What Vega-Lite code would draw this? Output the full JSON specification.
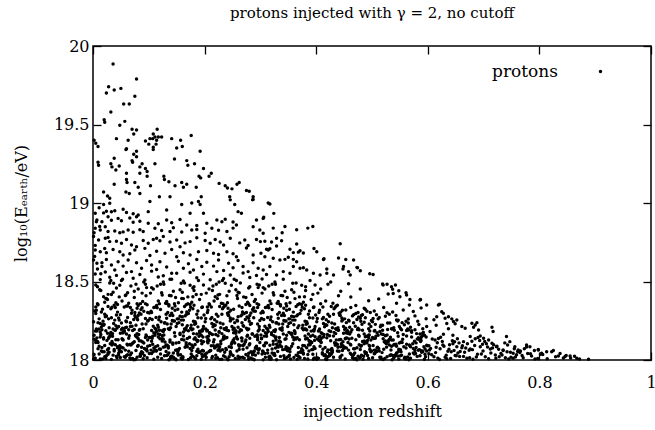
{"$schema":"https://vega.github.io/schema/vega-lite/v6.json",
"width":558,"height":314,"autosize":"none",
"padding":{"left":93,"top":46,"right":4,"bottom":70},
"background":"white",
"config":{"font":"DejaVu Serif","view":{"stroke":"black","strokeWidth":1.5},
"axis":{"labelFont":"DejaVu Serif","titleFont":"DejaVu Serif","labelFontSize":16,"titleFontSize":16,"titleFontWeight":"normal","labelColor":"black","titleColor":"black","tickColor":"black","tickWidth":1.3,"domain":false,"grid":false}},
"title":{"text":"protons injected with γ = 2, no cutoff","font":"DejaVu Serif","fontSize":15,"fontWeight":"normal","color":"black","offset":17,"anchor":"middle"},
"data":{"values":[
{"z":0.036,"E":19.885},{"z":0.078,"E":19.79},{"z":0.028,"E":19.74},{"z":0.038,"E":19.72},{"z":0.050,"E":19.73},{"z":0.024,"E":19.70},{"z":0.075,"E":19.68},{"z":0.055,"E":19.63},{"z":0.065,"E":19.63},{"z":0.032,"E":19.58},{"z":0.020,"E":19.53},{"z":0.021,"E":19.515},{"z":0.057,"E":19.52},
{"z":0.048,"E":19.495},{"z":0.070,"E":19.47},{"z":0.078,"E":19.465},{"z":0.073,"E":19.44},{"z":0.115,"E":19.47},{"z":0.108,"E":19.44},{"z":0.111,"E":19.42},{"z":0.117,"E":19.42},{"z":0.123,"E":19.42},{"z":0.102,"E":19.41},{"z":0.107,"E":19.41},{"z":0.114,"E":19.40},{"z":0.094,"E":19.395},{"z":0.100,"E":19.375},{"z":0.113,"E":19.375},{"z":0.108,"E":19.355},{"z":0.108,"E":19.34},{"z":0.141,"E":19.41},{"z":0.157,"E":19.40},{"z":0.176,"E":19.43},{"z":0.160,"E":19.36},{"z":0.150,"E":19.35},{"z":0.192,"E":19.33},{"z":0.002,"E":19.40},{"z":0.005,"E":19.38},{"z":0.009,"E":19.36},{"z":0.042,"E":19.41},{"z":0.063,"E":19.40},{"z":0.059,"E":19.34},{"z":0.060,"E":19.345},{"z":0.073,"E":19.31},{"z":0.078,"E":19.33},
{"z":0.009,"E":19.26},{"z":0.010,"E":19.24},{"z":0.038,"E":19.285},{"z":0.032,"E":19.25},{"z":0.034,"E":19.23},{"z":0.041,"E":19.21},{"z":0.047,"E":19.235},{"z":0.070,"E":19.27},{"z":0.071,"E":19.26},{"z":0.078,"E":19.295},{"z":0.060,"E":19.19},{"z":0.088,"E":19.25},{"z":0.084,"E":19.23},{"z":0.094,"E":19.22},{"z":0.097,"E":19.20},{"z":0.111,"E":19.25},{"z":0.084,"E":19.19},{"z":0.146,"E":19.28},{"z":0.168,"E":19.27},{"z":0.170,"E":19.24},{"z":0.182,"E":19.25},{"z":0.198,"E":19.22},{"z":0.212,"E":19.19},{"z":0.208,"E":19.17},{"z":0.190,"E":19.17},{"z":0.193,"E":19.16},{"z":0.127,"E":19.17},{"z":0.136,"E":19.135},{"z":0.128,"E":19.15},{"z":0.097,"E":19.17},{"z":0.060,"E":19.15},{"z":0.061,"E":19.13},{"z":0.075,"E":19.13},{"z":0.081,"E":19.10},{"z":0.038,"E":19.12},{"z":0.103,"E":19.11},{"z":0.159,"E":19.13},{"z":0.168,"E":19.12},{"z":0.162,"E":19.10},{"z":0.147,"E":19.11},{"z":0.185,"E":19.10},{"z":0.226,"E":19.125},{"z":0.237,"E":19.11},{"z":0.241,"E":19.095},{"z":0.249,"E":19.09},{"z":0.258,"E":19.12},{"z":0.262,"E":19.13},{"z":0.275,"E":19.08},{"z":0.280,"E":19.075},{"z":0.019,"E":19.07},{"z":0.026,"E":19.045},{"z":0.030,"E":19.03},{"z":0.059,"E":19.07},{"z":0.065,"E":19.06},{"z":0.084,"E":19.06},{"z":0.119,"E":19.04},{"z":0.138,"E":19.04},{"z":0.194,"E":19.04},{"z":0.245,"E":19.04},{"z":0.287,"E":19.04},{"z":0.314,"E":19.0},{"z":0.287,"E":19.023},
{"z":0.102,"E":19.01},{"z":0.159,"E":18.99},{"z":0.177,"E":19.0},{"z":0.189,"E":19.01},{"z":0.192,"E":18.99},{"z":0.246,"E":19.02},{"z":0.286,"E":19.02},{"z":0.317,"E":18.994},{"z":0.254,"E":18.99},{"z":0.260,"E":18.945},{"z":0.266,"E":18.935},{"z":0.174,"E":18.935},{"z":0.030,"E":18.998},
{"z":0.004,"E":18.935},{"z":0.019,"E":18.937},{"z":0.024,"E":18.948},{"z":0.033,"E":18.944},{"z":0.039,"E":18.951},{"z":0.054,"E":18.96},{"z":0.060,"E":18.94},{"z":0.072,"E":18.932},{"z":0.081,"E":18.924},{"z":0.099,"E":18.945},{"z":0.132,"E":18.955},{"z":0.198,"E":18.935},
{"z":0.007,"E":18.892},{"z":0.016,"E":18.881},{"z":0.027,"E":18.913},{"z":0.033,"E":18.89},{"z":0.045,"E":18.902},{"z":0.051,"E":18.887},{"z":0.066,"E":18.905},{"z":0.072,"E":18.878},{"z":0.078,"E":18.913},{"z":0.084,"E":18.884},{"z":0.099,"E":18.871},{"z":0.117,"E":18.868},{"z":0.132,"E":18.892},{"z":0.141,"E":18.874},{"z":0.156,"E":18.895},{"z":0.168,"E":18.86},{"z":0.186,"E":18.857},{"z":0.204,"E":18.871},{"z":0.222,"E":18.892},{"z":0.231,"E":18.881},{"z":0.237,"E":18.896},{"z":0.251,"E":18.879},{"z":0.257,"E":18.86},{"z":0.293,"E":18.892},{"z":0.305,"E":18.902},{"z":0.324,"E":18.934},{"z":0.306,"E":18.909},
{"z":0.004,"E":18.839},{"z":0.013,"E":18.828},{"z":0.022,"E":18.849},{"z":0.027,"E":18.818},{"z":0.039,"E":18.821},{"z":0.048,"E":18.811},{"z":0.054,"E":18.816},{"z":0.063,"E":18.828},{"z":0.072,"E":18.814},{"z":0.084,"E":18.83},{"z":0.090,"E":18.818},{"z":0.111,"E":18.839},{"z":0.123,"E":18.825},{"z":0.138,"E":18.818},{"z":0.144,"E":18.842},{"z":0.159,"E":18.815},{"z":0.177,"E":18.828},{"z":0.186,"E":18.831},{"z":0.201,"E":18.807},{"z":0.213,"E":18.839},{"z":0.225,"E":18.826},{"z":0.240,"E":18.818},{"z":0.251,"E":18.84},{"z":0.287,"E":18.849},{"z":0.299,"E":18.828},{"z":0.305,"E":18.807},
{"z":0.344,"E":18.85},{"z":0.385,"E":18.84},{"z":0.394,"E":18.85},{"z":0.365,"E":18.83},{"z":0.323,"E":18.84},{"z":0.339,"E":18.81},{"z":0.443,"E":18.74},{"z":0.396,"E":18.71},{"z":0.413,"E":18.64},{"z":0.440,"E":18.65},{"z":0.453,"E":18.64},{"z":0.473,"E":18.59},{"z":0.496,"E":18.55},{"z":0.419,"E":18.58},{"z":0.448,"E":18.58},
{"z":0.308,"E":18.756},{"z":0.311,"E":18.705},{"z":0.317,"E":18.708},{"z":0.320,"E":18.752},{"z":0.329,"E":18.775},{"z":0.329,"E":18.726},{"z":0.338,"E":18.76},{"z":0.365,"E":18.739},{"z":0.353,"E":18.705},{"z":0.359,"E":18.684},{"z":0.368,"E":18.687},{"z":0.371,"E":18.696},{"z":0.377,"E":18.681},{"z":0.308,"E":18.658},{"z":0.323,"E":18.648},{"z":0.335,"E":18.637},{"z":0.344,"E":18.641},{"z":0.350,"E":18.654},{"z":0.359,"E":18.641},{"z":0.359,"E":18.595},{"z":0.365,"E":18.626},{"z":0.371,"E":18.584},{"z":0.377,"E":18.587},{"z":0.383,"E":18.573},{"z":0.395,"E":18.552},{"z":0.407,"E":18.542},{"z":0.305,"E":18.573},{"z":0.317,"E":18.595},{"z":0.329,"E":18.542},{"z":0.341,"E":18.563},{"z":0.353,"E":18.552},{"z":0.311,"E":18.545},{"z":0.419,"E":18.552},{"z":0.431,"E":18.542},{"z":0.461,"E":18.542},{"z":0.449,"E":18.595},{"z":0.458,"E":18.563},
{"z":0.414,"E":18.645},{"z":0.401,"E":18.69},{"z":0.467,"E":18.637},{"z":0.474,"E":18.588},{"z":0.479,"E":18.569},{"z":0.502,"E":18.544},{"z":0.519,"E":18.484},{"z":0.527,"E":18.482},{"z":0.542,"E":18.478},{"z":0.537,"E":18.45},{"z":0.561,"E":18.429},{"z":0.568,"E":18.386},{"z":0.587,"E":18.386},
{"z":0.001,"E":18.786},{"z":0.010,"E":18.764},{"z":0.022,"E":18.775},{"z":0.030,"E":18.754},{"z":0.042,"E":18.757},{"z":0.051,"E":18.743},{"z":0.060,"E":18.768},{"z":0.069,"E":18.733},{"z":0.078,"E":18.722},{"z":0.090,"E":18.761},{"z":0.099,"E":18.743},{"z":0.108,"E":18.767},{"z":0.114,"E":18.775},{"z":0.120,"E":18.759},{"z":0.126,"E":18.786},{"z":0.138,"E":18.751},{"z":0.150,"E":18.764},{"z":0.156,"E":18.722},{"z":0.165,"E":18.746},{"z":0.174,"E":18.754},{"z":0.186,"E":18.778},{"z":0.201,"E":18.761},{"z":0.210,"E":18.743},{"z":0.219,"E":18.768},{"z":0.228,"E":18.751},{"z":0.234,"E":18.733},{"z":0.246,"E":18.775},{"z":0.263,"E":18.746},{"z":0.272,"E":18.764},{"z":0.278,"E":18.729},{"z":0.293,"E":18.767},{"z":0.300,"E":18.754},
{"z":0.004,"E":18.701},{"z":0.013,"E":18.69},{"z":0.024,"E":18.683},{"z":0.036,"E":18.704},{"z":0.048,"E":18.69},{"z":0.054,"E":18.669},{"z":0.066,"E":18.677},{"z":0.075,"E":18.701},{"z":0.093,"E":18.711},{"z":0.102,"E":18.666},{"z":0.114,"E":18.693},{"z":0.129,"E":18.68},{"z":0.141,"E":18.704},{"z":0.150,"E":18.658},{"z":0.162,"E":18.683},{"z":0.174,"E":18.669},{"z":0.189,"E":18.69},{"z":0.204,"E":18.698},{"z":0.216,"E":18.68},{"z":0.225,"E":18.672},{"z":0.240,"E":18.69},{"z":0.251,"E":18.677},{"z":0.257,"E":18.658},{"z":0.275,"E":18.714},{"z":0.287,"E":18.669},{"z":0.301,"E":18.68},{"z":0.314,"E":18.701},
{"z":0.001,"E":18.637},{"z":0.007,"E":18.616},{"z":0.016,"E":18.595},{"z":0.024,"E":18.64},{"z":0.033,"E":18.605},{"z":0.039,"E":18.573},{"z":0.045,"E":18.626},{"z":0.054,"E":18.598},{"z":0.063,"E":18.637},{"z":0.069,"E":18.563},{"z":0.078,"E":18.619},{"z":0.087,"E":18.584},{"z":0.096,"E":18.634},{"z":0.105,"E":18.605},{"z":0.114,"E":18.576},{"z":0.120,"E":18.626},{"z":0.132,"E":18.592},{"z":0.141,"E":18.552},{"z":0.153,"E":18.629},{"z":0.162,"E":18.584},{"z":0.171,"E":18.613},{"z":0.180,"E":18.573},{"z":0.186,"E":18.64},{"z":0.195,"E":18.595},{"z":0.204,"E":18.623},{"z":0.216,"E":18.598},{"z":0.225,"E":18.637},{"z":0.234,"E":18.57},{"z":0.243,"E":18.616},{"z":0.251,"E":18.587},{"z":0.260,"E":18.634},{"z":0.269,"E":18.595},{"z":0.278,"E":18.563},{"z":0.287,"E":18.619},{"z":0.296,"E":18.584},
{"z":0.004,"E":18.548},{"z":0.013,"E":18.512},{"z":0.022,"E":18.561},{"z":0.030,"E":18.527},{"z":0.042,"E":18.539},{"z":0.051,"E":18.506},{"z":0.060,"E":18.557},{"z":0.072,"E":18.521},{"z":0.084,"E":18.544},{"z":0.093,"E":18.509},{"z":0.105,"E":18.566},{"z":0.117,"E":18.529},{"z":0.126,"E":18.536},{"z":0.138,"E":18.514},{"z":0.150,"E":18.552},{"z":0.162,"E":18.503},{"z":0.174,"E":18.559},{"z":0.186,"E":18.524},{"z":0.198,"E":18.547},{"z":0.210,"E":18.511},{"z":0.222,"E":18.563},{"z":0.234,"E":18.519},{"z":0.246,"E":18.541},{"z":0.257,"E":18.507},{"z":0.269,"E":18.554},{"z":0.281,"E":18.526},{"z":0.293,"E":18.538},{"z":0.303,"E":18.516},
{"z":0.002,"E":18.81},{"z":0.006,"E":18.88},{"z":0.011,"E":18.97},{"z":0.004,"E":18.73},{"z":0.016,"E":18.62},{"z":0.008,"E":18.58},{"z":0.019,"E":18.99},{"z":0.012,"E":18.85},{"z":0.027,"E":18.78},{"z":0.003,"E":18.66},{"z":0.014,"E":18.55},{"z":0.021,"E":18.71},
{"z":0.621,"E":18.355},{"z":0.625,"E":18.308},{"z":0.631,"E":18.266},{"z":0.637,"E":18.276},{"z":0.643,"E":18.262},{"z":0.646,"E":18.245},{"z":0.649,"E":18.231},{"z":0.652,"E":18.255},{"z":0.661,"E":18.213},{"z":0.667,"E":18.202},{"z":0.679,"E":18.234},{"z":0.685,"E":18.223},{"z":0.682,"E":18.208},{"z":0.688,"E":18.238},{"z":0.691,"E":18.191},{"z":0.715,"E":18.208},{"z":0.717,"E":18.181},{"z":0.694,"E":18.153},{"z":0.700,"E":18.138},{"z":0.709,"E":18.128},{"z":0.715,"E":18.107},{"z":0.723,"E":18.085},{"z":0.741,"E":18.149},{"z":0.747,"E":18.117},{"z":0.756,"E":18.085},{"z":0.762,"E":18.064},{"z":0.777,"E":18.096},{"z":0.783,"E":18.085},{"z":0.798,"E":18.064},{"z":0.804,"E":18.043},{"z":0.813,"E":18.053},{"z":0.825,"E":18.06},{"z":0.834,"E":18.026},{"z":0.846,"E":18.022},{"z":0.855,"E":18.026},{"z":0.867,"E":18.011},{"z":0.888,"E":18.005},{"z":0.753,"E":18.043},{"z":0.735,"E":18.064},{"z":0.676,"E":18.149},{"z":0.664,"E":18.117},{"z":0.652,"E":18.085},
{"z":0.520,"E":18.477},{"z":0.535,"E":18.467},{"z":0.538,"E":18.424},{"z":0.550,"E":18.403},{"z":0.562,"E":18.414},{"z":0.586,"E":18.382},{"z":0.598,"E":18.35},{"z":0.619,"E":18.35},{"z":0.628,"E":18.297},{"z":0.616,"E":18.276},{"z":0.634,"E":18.233},
{"z":0.003,"E":18.012},{"z":0.011,"E":18.087},{"z":0.019,"E":18.134},{"z":0.027,"E":18.046},{"z":0.034,"E":18.118},{"z":0.042,"E":18.024},{"z":0.048,"E":18.071},{"z":0.007,"E":18.141},{"z":0.015,"E":18.058},{"z":0.023,"E":18.009},{"z":0.031,"E":18.103},{"z":0.038,"E":18.067},{"z":0.045,"E":18.129},{"z":0.002,"E":18.035},{"z":0.013,"E":18.006},{"z":0.021,"E":18.092},{"z":0.029,"E":18.148},{"z":0.036,"E":18.031},{"z":0.044,"E":18.078},{"z":0.049,"E":18.016},{"z":0.005,"E":18.112},{"z":0.017,"E":18.053},{"z":0.025,"E":18.125},{"z":0.033,"E":18.004},{"z":0.040,"E":18.097},{"z":0.009,"E":18.072},{"z":0.046,"E":18.043},{"z":0.028,"E":18.139},
{"z":0.096,"E":18.064},{"z":0.056,"E":18.021},{"z":0.081,"E":18.137},{"z":0.068,"E":18.095},{"z":0.090,"E":18.008},{"z":0.051,"E":18.052},{"z":0.074,"E":18.116},{"z":0.062,"E":18.033},{"z":0.087,"E":18.081},{"z":0.079,"E":18.145},{"z":0.058,"E":18.017},{"z":0.094,"E":18.069},{"z":0.070,"E":18.104},{"z":0.085,"E":18.040},{"z":0.054,"E":18.127},{"z":0.076,"E":18.003},{"z":0.098,"E":18.088},{"z":0.064,"E":18.056},{"z":0.083,"E":18.122},{"z":0.060,"E":18.029},{"z":0.092,"E":18.074},{"z":0.072,"E":18.110},{"z":0.097,"E":18.014},{"z":0.066,"E":18.099},{"z":0.089,"E":18.047},{"z":0.053,"E":18.131},{"z":0.077,"E":18.061},{"z":0.084,"E":18.026},
{"z":0.121,"E":18.038},{"z":0.143,"E":18.109},{"z":0.109,"E":18.005},{"z":0.135,"E":18.076},{"z":0.102,"E":18.143},{"z":0.128,"E":18.027},{"z":0.148,"E":18.062},{"z":0.116,"E":18.091},{"z":0.139,"E":18.019},{"z":0.105,"E":18.120},{"z":0.131,"E":18.054},{"z":0.112,"E":18.084},{"z":0.145,"E":18.011},{"z":0.124,"E":18.136},{"z":0.136,"E":18.045},{"z":0.119,"E":18.070},{"z":0.107,"E":18.101},{"z":0.141,"E":18.023},{"z":0.126,"E":18.132},{"z":0.114,"E":18.059},{"z":0.149,"E":18.002},{"z":0.133,"E":18.094},{"z":0.101,"E":18.041},{"z":0.138,"E":18.114},{"z":0.111,"E":18.066},{"z":0.144,"E":18.018},{"z":0.129,"E":18.085},{"z":0.117,"E":18.147},
{"z":0.153,"E":18.064},{"z":0.161,"E":18.021},{"z":0.169,"E":18.137},{"z":0.177,"E":18.095},{"z":0.184,"E":18.008},{"z":0.192,"E":18.052},{"z":0.198,"E":18.116},{"z":0.157,"E":18.033},{"z":0.165,"E":18.081},{"z":0.173,"E":18.145},{"z":0.181,"E":18.017},{"z":0.188,"E":18.069},{"z":0.195,"E":18.104},{"z":0.152,"E":18.040},{"z":0.163,"E":18.127},{"z":0.171,"E":18.003},{"z":0.179,"E":18.088},{"z":0.186,"E":18.056},{"z":0.194,"E":18.122},{"z":0.199,"E":18.029},{"z":0.155,"E":18.074},{"z":0.167,"E":18.110},{"z":0.175,"E":18.014},{"z":0.183,"E":18.099},{"z":0.190,"E":18.047},{"z":0.159,"E":18.131},{"z":0.196,"E":18.061},{"z":0.178,"E":18.026},
{"z":0.246,"E":18.038},{"z":0.206,"E":18.109},{"z":0.231,"E":18.005},{"z":0.218,"E":18.076},{"z":0.240,"E":18.143},{"z":0.201,"E":18.027},{"z":0.224,"E":18.062},{"z":0.212,"E":18.091},{"z":0.237,"E":18.019},{"z":0.229,"E":18.120},{"z":0.208,"E":18.054},{"z":0.244,"E":18.084},{"z":0.220,"E":18.011},{"z":0.235,"E":18.136},{"z":0.204,"E":18.045},{"z":0.226,"E":18.070},{"z":0.248,"E":18.101},{"z":0.214,"E":18.023},{"z":0.233,"E":18.132},{"z":0.210,"E":18.059},{"z":0.242,"E":18.002},{"z":0.222,"E":18.094},{"z":0.247,"E":18.041},{"z":0.216,"E":18.114},{"z":0.239,"E":18.066},{"z":0.203,"E":18.018},{"z":0.227,"E":18.085},{"z":0.234,"E":18.147},
{"z":0.271,"E":18.012},{"z":0.293,"E":18.087},{"z":0.259,"E":18.134},{"z":0.285,"E":18.046},{"z":0.252,"E":18.118},{"z":0.278,"E":18.024},{"z":0.298,"E":18.071},{"z":0.266,"E":18.141},{"z":0.289,"E":18.058},{"z":0.255,"E":18.009},{"z":0.281,"E":18.103},{"z":0.262,"E":18.067},{"z":0.295,"E":18.129},{"z":0.274,"E":18.035},{"z":0.286,"E":18.006},{"z":0.269,"E":18.092},{"z":0.257,"E":18.148},{"z":0.291,"E":18.031},{"z":0.276,"E":18.078},{"z":0.264,"E":18.016},{"z":0.299,"E":18.112},{"z":0.283,"E":18.053},{"z":0.251,"E":18.125},{"z":0.288,"E":18.004},{"z":0.261,"E":18.097},{"z":0.294,"E":18.072},{"z":0.279,"E":18.043},{"z":0.267,"E":18.139},
{"z":0.303,"E":18.038},{"z":0.311,"E":18.109},{"z":0.319,"E":18.005},{"z":0.327,"E":18.076},{"z":0.334,"E":18.143},{"z":0.342,"E":18.027},{"z":0.348,"E":18.062},{"z":0.307,"E":18.091},{"z":0.315,"E":18.019},{"z":0.323,"E":18.120},{"z":0.331,"E":18.054},{"z":0.338,"E":18.084},{"z":0.345,"E":18.011},{"z":0.302,"E":18.136},{"z":0.313,"E":18.045},{"z":0.321,"E":18.070},{"z":0.329,"E":18.101},{"z":0.336,"E":18.023},{"z":0.344,"E":18.132},{"z":0.349,"E":18.059},{"z":0.305,"E":18.002},{"z":0.317,"E":18.094},{"z":0.325,"E":18.041},{"z":0.333,"E":18.114},{"z":0.340,"E":18.066},{"z":0.309,"E":18.018},{"z":0.346,"E":18.085},{"z":0.328,"E":18.147},
{"z":0.396,"E":18.012},{"z":0.356,"E":18.087},{"z":0.381,"E":18.134},{"z":0.368,"E":18.046},{"z":0.390,"E":18.118},{"z":0.351,"E":18.024},{"z":0.374,"E":18.071},{"z":0.362,"E":18.141},{"z":0.387,"E":18.058},{"z":0.379,"E":18.009},{"z":0.358,"E":18.103},{"z":0.394,"E":18.067},{"z":0.370,"E":18.129},{"z":0.385,"E":18.035},{"z":0.354,"E":18.006},{"z":0.376,"E":18.092},{"z":0.398,"E":18.148},{"z":0.364,"E":18.031},{"z":0.383,"E":18.078},{"z":0.360,"E":18.016},{"z":0.392,"E":18.112},{"z":0.372,"E":18.053},{"z":0.397,"E":18.125},{"z":0.366,"E":18.004},{"z":0.389,"E":18.097},{"z":0.353,"E":18.072},{"z":0.377,"E":18.043},{"z":0.384,"E":18.139},
{"z":0.421,"E":18.064},{"z":0.443,"E":18.021},{"z":0.409,"E":18.137},{"z":0.435,"E":18.095},{"z":0.402,"E":18.008},{"z":0.428,"E":18.052},{"z":0.448,"E":18.116},{"z":0.416,"E":18.033},{"z":0.439,"E":18.081},{"z":0.405,"E":18.145},{"z":0.431,"E":18.017},{"z":0.412,"E":18.069},{"z":0.445,"E":18.104},{"z":0.424,"E":18.040},{"z":0.436,"E":18.127},{"z":0.419,"E":18.003},{"z":0.407,"E":18.088},{"z":0.441,"E":18.056},{"z":0.426,"E":18.122},{"z":0.414,"E":18.029},{"z":0.449,"E":18.074},{"z":0.433,"E":18.110},{"z":0.401,"E":18.014},{"z":0.438,"E":18.099},{"z":0.411,"E":18.047},{"z":0.444,"E":18.131},{"z":0.429,"E":18.061},{"z":0.417,"E":18.026},
{"z":0.453,"E":18.139},{"z":0.461,"E":18.043},{"z":0.469,"E":18.072},{"z":0.477,"E":18.097},{"z":0.484,"E":18.004},{"z":0.492,"E":18.125},{"z":0.498,"E":18.053},{"z":0.457,"E":18.112},{"z":0.465,"E":18.016},{"z":0.473,"E":18.078},{"z":0.481,"E":18.031},{"z":0.488,"E":18.148},{"z":0.495,"E":18.092},{"z":0.452,"E":18.006},{"z":0.463,"E":18.035},{"z":0.471,"E":18.129},{"z":0.479,"E":18.067},{"z":0.486,"E":18.103},{"z":0.494,"E":18.009},{"z":0.499,"E":18.058},{"z":0.455,"E":18.141},{"z":0.467,"E":18.071},{"z":0.475,"E":18.024},{"z":0.483,"E":18.118},{"z":0.490,"E":18.046},{"z":0.459,"E":18.134},{"z":0.496,"E":18.087},{"z":0.478,"E":18.012},
{"z":0.546,"E":18.026},{"z":0.506,"E":18.061},{"z":0.531,"E":18.131},{"z":0.518,"E":18.047},{"z":0.540,"E":18.099},{"z":0.501,"E":18.014},{"z":0.524,"E":18.110},{"z":0.512,"E":18.074},{"z":0.537,"E":18.029},{"z":0.529,"E":18.122},{"z":0.508,"E":18.056},{"z":0.544,"E":18.088},{"z":0.520,"E":18.003},{"z":0.535,"E":18.127},{"z":0.504,"E":18.040},{"z":0.526,"E":18.104},{"z":0.548,"E":18.069},{"z":0.514,"E":18.017},{"z":0.533,"E":18.145},{"z":0.510,"E":18.081},{"z":0.542,"E":18.033},{"z":0.522,"E":18.116},{"z":0.547,"E":18.052},{"z":0.516,"E":18.008},{"z":0.539,"E":18.095},{"z":0.503,"E":18.137},{"z":0.527,"E":18.021},{"z":0.534,"E":18.064},
{"z":0.571,"E":18.147},{"z":0.593,"E":18.085},{"z":0.559,"E":18.018},{"z":0.585,"E":18.066},{"z":0.552,"E":18.114},{"z":0.578,"E":18.041},{"z":0.598,"E":18.094},{"z":0.566,"E":18.002},{"z":0.589,"E":18.059},{"z":0.555,"E":18.132},{"z":0.581,"E":18.023},{"z":0.562,"E":18.101},{"z":0.595,"E":18.070},{"z":0.574,"E":18.045},{"z":0.586,"E":18.136},{"z":0.569,"E":18.011},{"z":0.557,"E":18.084},{"z":0.591,"E":18.054},{"z":0.576,"E":18.120},{"z":0.564,"E":18.019},{"z":0.599,"E":18.091},{"z":0.583,"E":18.062},{"z":0.551,"E":18.027},{"z":0.588,"E":18.143},{"z":0.561,"E":18.076},{"z":0.594,"E":18.005},{"z":0.579,"E":18.109},{"z":0.567,"E":18.038},
{"z":0.603,"E":18.064},{"z":0.611,"E":18.021},{"z":0.619,"E":18.137},{"z":0.627,"E":18.095},{"z":0.634,"E":18.008},{"z":0.642,"E":18.052},{"z":0.648,"E":18.116},{"z":0.607,"E":18.033},{"z":0.615,"E":18.081},{"z":0.623,"E":18.145},{"z":0.631,"E":18.017},{"z":0.638,"E":18.069},{"z":0.645,"E":18.104},{"z":0.602,"E":18.040},{"z":0.613,"E":18.127},{"z":0.621,"E":18.003},{"z":0.629,"E":18.088},{"z":0.636,"E":18.056},{"z":0.644,"E":18.122},{"z":0.649,"E":18.029},{"z":0.605,"E":18.074},{"z":0.617,"E":18.110},
{"z":0.696,"E":18.038},{"z":0.656,"E":18.109},{"z":0.681,"E":18.005},{"z":0.668,"E":18.076},{"z":0.690,"E":18.143},{"z":0.651,"E":18.027},{"z":0.674,"E":18.062},{"z":0.662,"E":18.091},{"z":0.687,"E":18.019},{"z":0.679,"E":18.120},{"z":0.658,"E":18.054},{"z":0.694,"E":18.084},{"z":0.670,"E":18.011},{"z":0.685,"E":18.136},{"z":0.654,"E":18.045},{"z":0.676,"E":18.070},{"z":0.698,"E":18.101},{"z":0.664,"E":18.023},
{"z":0.721,"E":18.032},{"z":0.743,"E":18.095},{"z":0.709,"E":18.008},{"z":0.735,"E":18.061},{"z":0.702,"E":18.118},{"z":0.728,"E":18.021},{"z":0.748,"E":18.049},{"z":0.716,"E":18.077},{"z":0.739,"E":18.014},{"z":0.705,"E":18.103},{"z":0.731,"E":18.042},{"z":0.712,"E":18.070},{"z":0.745,"E":18.006},{"z":0.724,"E":18.088},
{"z":0.753,"E":18.011},{"z":0.761,"E":18.054},{"z":0.769,"E":18.028},{"z":0.777,"E":18.083},{"z":0.784,"E":18.040},{"z":0.792,"E":18.006},{"z":0.798,"E":18.067},{"z":0.757,"E":18.019},{"z":0.765,"E":18.047},{"z":0.773,"E":18.072},
{"z":0.806,"E":18.035},{"z":0.814,"E":18.008},{"z":0.822,"E":18.052},{"z":0.829,"E":18.021},{"z":0.837,"E":18.041},{"z":0.843,"E":18.013},{"z":0.848,"E":18.029},{"z":0.856,"E":18.012},{"z":0.863,"E":18.024},{"z":0.872,"E":18.006},
{"z":0.002,"E":18.157},{"z":0.009,"E":18.238},{"z":0.016,"E":18.192},{"z":0.024,"E":18.281},{"z":0.031,"E":18.166},{"z":0.039,"E":18.254},{"z":0.046,"E":18.213},{"z":0.005,"E":18.296},{"z":0.013,"E":18.178},{"z":0.020,"E":18.227},{"z":0.028,"E":18.262},{"z":0.035,"E":18.151},{"z":0.043,"E":18.203},{"z":0.049,"E":18.289},{"z":0.007,"E":18.185},{"z":0.018,"E":18.247},{"z":0.026,"E":18.171},{"z":0.033,"E":18.269},{"z":0.041,"E":18.219},{"z":0.011,"E":18.198},{"z":0.022,"E":18.276},{"z":0.037,"E":18.233},
{"z":0.094,"E":18.264},{"z":0.054,"E":18.173},{"z":0.077,"E":18.221},{"z":0.065,"E":18.155},{"z":0.086,"E":18.292},{"z":0.058,"E":18.206},{"z":0.098,"E":18.248},{"z":0.071,"E":18.188},{"z":0.062,"E":18.271},{"z":0.082,"E":18.163},{"z":0.051,"E":18.236},{"z":0.090,"E":18.199},{"z":0.075,"E":18.283},{"z":0.067,"E":18.214},{"z":0.096,"E":18.152},{"z":0.080,"E":18.257},{"z":0.056,"E":18.181},{"z":0.088,"E":18.229},{"z":0.069,"E":18.298},{"z":0.079,"E":18.168},{"z":0.060,"E":18.243},{"z":0.084,"E":18.194},
{"z":0.102,"E":18.264},{"z":0.109,"E":18.173},{"z":0.116,"E":18.221},{"z":0.124,"E":18.155},{"z":0.131,"E":18.292},{"z":0.139,"E":18.206},{"z":0.146,"E":18.248},{"z":0.105,"E":18.188},{"z":0.113,"E":18.271},{"z":0.120,"E":18.163},{"z":0.128,"E":18.236},{"z":0.135,"E":18.199},{"z":0.143,"E":18.283},{"z":0.149,"E":18.214},{"z":0.107,"E":18.152},{"z":0.118,"E":18.257},{"z":0.126,"E":18.181},{"z":0.133,"E":18.229},{"z":0.141,"E":18.298},{"z":0.111,"E":18.168},{"z":0.122,"E":18.243},{"z":0.137,"E":18.194},
{"z":0.194,"E":18.157},{"z":0.154,"E":18.238},{"z":0.177,"E":18.192},{"z":0.165,"E":18.281},{"z":0.186,"E":18.166},{"z":0.158,"E":18.254},{"z":0.198,"E":18.213},{"z":0.171,"E":18.296},{"z":0.162,"E":18.178},{"z":0.182,"E":18.227},{"z":0.151,"E":18.262},{"z":0.190,"E":18.151},{"z":0.175,"E":18.203},{"z":0.167,"E":18.289},{"z":0.196,"E":18.185},{"z":0.180,"E":18.247},{"z":0.156,"E":18.171},{"z":0.188,"E":18.269},{"z":0.169,"E":18.219},{"z":0.179,"E":18.198},{"z":0.160,"E":18.276},{"z":0.184,"E":18.233},
{"z":0.202,"E":18.264},{"z":0.209,"E":18.173},{"z":0.216,"E":18.221},{"z":0.224,"E":18.155},{"z":0.231,"E":18.292},{"z":0.239,"E":18.206},{"z":0.246,"E":18.248},{"z":0.205,"E":18.188},{"z":0.213,"E":18.271},{"z":0.220,"E":18.163},{"z":0.228,"E":18.236},{"z":0.235,"E":18.199},{"z":0.243,"E":18.283},{"z":0.249,"E":18.214},{"z":0.207,"E":18.152},{"z":0.218,"E":18.257},{"z":0.226,"E":18.181},{"z":0.233,"E":18.229},{"z":0.241,"E":18.298},{"z":0.211,"E":18.168},{"z":0.222,"E":18.243},{"z":0.237,"E":18.194},
{"z":0.294,"E":18.157},{"z":0.254,"E":18.238},{"z":0.277,"E":18.192},{"z":0.265,"E":18.281},{"z":0.286,"E":18.166},{"z":0.258,"E":18.254},{"z":0.298,"E":18.213},{"z":0.271,"E":18.296},{"z":0.262,"E":18.178},{"z":0.282,"E":18.227},{"z":0.251,"E":18.262},{"z":0.290,"E":18.151},{"z":0.275,"E":18.203},{"z":0.267,"E":18.289},{"z":0.296,"E":18.185},{"z":0.280,"E":18.247},{"z":0.256,"E":18.171},{"z":0.288,"E":18.269},{"z":0.269,"E":18.219},{"z":0.279,"E":18.198},{"z":0.260,"E":18.276},{"z":0.284,"E":18.233},
{"z":0.302,"E":18.264},{"z":0.309,"E":18.173},{"z":0.316,"E":18.221},{"z":0.324,"E":18.155},{"z":0.331,"E":18.292},{"z":0.339,"E":18.206},{"z":0.346,"E":18.248},{"z":0.305,"E":18.188},{"z":0.313,"E":18.271},{"z":0.320,"E":18.163},{"z":0.328,"E":18.236},{"z":0.335,"E":18.199},{"z":0.343,"E":18.283},{"z":0.349,"E":18.214},{"z":0.307,"E":18.152},{"z":0.318,"E":18.257},{"z":0.326,"E":18.181},{"z":0.333,"E":18.229},{"z":0.341,"E":18.298},{"z":0.311,"E":18.168},{"z":0.322,"E":18.243},{"z":0.337,"E":18.194},
{"z":0.394,"E":18.157},{"z":0.354,"E":18.238},{"z":0.377,"E":18.192},{"z":0.365,"E":18.281},{"z":0.386,"E":18.166},{"z":0.358,"E":18.254},{"z":0.398,"E":18.213},{"z":0.371,"E":18.296},{"z":0.362,"E":18.178},{"z":0.382,"E":18.227},{"z":0.351,"E":18.262},{"z":0.390,"E":18.151},{"z":0.375,"E":18.203},{"z":0.367,"E":18.289},{"z":0.396,"E":18.185},{"z":0.380,"E":18.247},{"z":0.356,"E":18.171},{"z":0.388,"E":18.269},{"z":0.369,"E":18.219},{"z":0.379,"E":18.198},{"z":0.360,"E":18.276},{"z":0.384,"E":18.233},
{"z":0.402,"E":18.264},{"z":0.409,"E":18.173},{"z":0.416,"E":18.221},{"z":0.424,"E":18.155},{"z":0.431,"E":18.292},{"z":0.439,"E":18.206},{"z":0.446,"E":18.248},{"z":0.405,"E":18.188},{"z":0.413,"E":18.271},{"z":0.420,"E":18.163},{"z":0.428,"E":18.236},{"z":0.435,"E":18.199},{"z":0.443,"E":18.283},{"z":0.449,"E":18.214},{"z":0.407,"E":18.152},{"z":0.418,"E":18.257},{"z":0.426,"E":18.181},{"z":0.433,"E":18.229},{"z":0.441,"E":18.298},{"z":0.411,"E":18.168},{"z":0.422,"E":18.243},{"z":0.437,"E":18.194},
{"z":0.494,"E":18.157},{"z":0.454,"E":18.238},{"z":0.477,"E":18.192},{"z":0.465,"E":18.281},{"z":0.486,"E":18.166},{"z":0.458,"E":18.254},{"z":0.498,"E":18.213},{"z":0.471,"E":18.296},{"z":0.462,"E":18.178},{"z":0.482,"E":18.227},{"z":0.451,"E":18.262},{"z":0.490,"E":18.151},{"z":0.475,"E":18.203},{"z":0.467,"E":18.289},{"z":0.496,"E":18.185},{"z":0.480,"E":18.247},{"z":0.456,"E":18.171},{"z":0.488,"E":18.269},
{"z":0.502,"E":18.264},{"z":0.509,"E":18.173},{"z":0.516,"E":18.221},{"z":0.524,"E":18.155},{"z":0.531,"E":18.292},{"z":0.539,"E":18.206},{"z":0.546,"E":18.248},{"z":0.505,"E":18.188},{"z":0.513,"E":18.271},{"z":0.520,"E":18.163},{"z":0.528,"E":18.236},{"z":0.535,"E":18.199},{"z":0.543,"E":18.283},{"z":0.549,"E":18.214},{"z":0.507,"E":18.152},
{"z":0.594,"E":18.157},{"z":0.554,"E":18.238},{"z":0.577,"E":18.192},{"z":0.565,"E":18.261},{"z":0.586,"E":18.166},{"z":0.558,"E":18.224},{"z":0.598,"E":18.213},{"z":0.571,"E":18.176},{"z":0.562,"E":18.188},{"z":0.582,"E":18.247},{"z":0.551,"E":18.201},{"z":0.590,"E":18.153},
{"z":0.604,"E":18.182},{"z":0.615,"E":18.221},{"z":0.628,"E":18.164},{"z":0.637,"E":18.199},{"z":0.645,"E":18.158},{"z":0.611,"E":18.257},
{"z":0.003,"E":18.312},{"z":0.012,"E":18.447},{"z":0.021,"E":18.368},{"z":0.030,"E":18.491},{"z":0.040,"E":18.335},{"z":0.047,"E":18.402},{"z":0.008,"E":18.466},{"z":0.017,"E":18.323},{"z":0.026,"E":18.385},{"z":0.036,"E":18.431},{"z":0.044,"E":18.354},{"z":0.005,"E":18.478},{"z":0.015,"E":18.306},{"z":0.033,"E":18.417},{"z":0.024,"E":18.392},{"z":0.042,"E":18.459},
{"z":0.088,"E":18.426},{"z":0.056,"E":18.338},{"z":0.077,"E":18.483},{"z":0.064,"E":18.361},{"z":0.095,"E":18.409},{"z":0.070,"E":18.317},{"z":0.081,"E":18.452},{"z":0.052,"E":18.376},{"z":0.091,"E":18.497},{"z":0.060,"E":18.344},{"z":0.074,"E":18.438},{"z":0.098,"E":18.302},{"z":0.068,"E":18.471},{"z":0.085,"E":18.359},{"z":0.059,"E":18.414},{"z":0.079,"E":18.329},
{"z":0.103,"E":18.426},{"z":0.112,"E":18.338},{"z":0.121,"E":18.483},{"z":0.130,"E":18.361},{"z":0.140,"E":18.409},{"z":0.147,"E":18.317},{"z":0.108,"E":18.452},{"z":0.117,"E":18.376},{"z":0.126,"E":18.497},{"z":0.136,"E":18.344},{"z":0.144,"E":18.438},{"z":0.105,"E":18.302},{"z":0.115,"E":18.471},{"z":0.133,"E":18.359},{"z":0.124,"E":18.414},{"z":0.142,"E":18.329},
{"z":0.188,"E":18.312},{"z":0.156,"E":18.447},{"z":0.177,"E":18.368},{"z":0.164,"E":18.491},{"z":0.195,"E":18.335},{"z":0.170,"E":18.402},{"z":0.181,"E":18.466},{"z":0.152,"E":18.323},{"z":0.191,"E":18.385},{"z":0.160,"E":18.431},{"z":0.174,"E":18.354},{"z":0.198,"E":18.478},{"z":0.168,"E":18.306},{"z":0.185,"E":18.417},{"z":0.159,"E":18.392},{"z":0.179,"E":18.459},
{"z":0.203,"E":18.426},{"z":0.212,"E":18.338},{"z":0.221,"E":18.483},{"z":0.230,"E":18.361},{"z":0.240,"E":18.409},{"z":0.247,"E":18.317},{"z":0.208,"E":18.452},{"z":0.217,"E":18.376},{"z":0.226,"E":18.497},{"z":0.236,"E":18.344},{"z":0.244,"E":18.438},{"z":0.205,"E":18.302},{"z":0.215,"E":18.471},{"z":0.233,"E":18.359},{"z":0.224,"E":18.414},{"z":0.242,"E":18.329},
{"z":0.288,"E":18.312},{"z":0.256,"E":18.447},{"z":0.277,"E":18.368},{"z":0.264,"E":18.491},{"z":0.295,"E":18.335},{"z":0.270,"E":18.402},{"z":0.281,"E":18.466},{"z":0.252,"E":18.323},{"z":0.291,"E":18.385},{"z":0.260,"E":18.431},{"z":0.274,"E":18.354},{"z":0.298,"E":18.478},{"z":0.268,"E":18.306},{"z":0.285,"E":18.417},{"z":0.259,"E":18.392},{"z":0.279,"E":18.459},
{"z":0.303,"E":18.426},{"z":0.312,"E":18.338},{"z":0.321,"E":18.483},{"z":0.330,"E":18.361},{"z":0.340,"E":18.409},{"z":0.347,"E":18.317},{"z":0.308,"E":18.452},{"z":0.317,"E":18.376},{"z":0.326,"E":18.497},{"z":0.336,"E":18.344},{"z":0.344,"E":18.438},{"z":0.305,"E":18.302},{"z":0.315,"E":18.471},{"z":0.333,"E":18.359},{"z":0.324,"E":18.414},{"z":0.342,"E":18.329},
{"z":0.388,"E":18.312},{"z":0.356,"E":18.447},{"z":0.377,"E":18.368},{"z":0.364,"E":18.491},{"z":0.395,"E":18.335},{"z":0.370,"E":18.402},{"z":0.381,"E":18.466},{"z":0.352,"E":18.323},{"z":0.391,"E":18.385},{"z":0.360,"E":18.431},{"z":0.374,"E":18.354},{"z":0.398,"E":18.478},
{"z":0.403,"E":18.426},{"z":0.412,"E":18.338},{"z":0.421,"E":18.483},{"z":0.430,"E":18.361},{"z":0.440,"E":18.409},{"z":0.447,"E":18.317},{"z":0.408,"E":18.452},{"z":0.417,"E":18.376},{"z":0.426,"E":18.497},{"z":0.436,"E":18.344},{"z":0.444,"E":18.438},{"z":0.405,"E":18.302},
{"z":0.453,"E":18.318},{"z":0.462,"E":18.401},{"z":0.471,"E":18.347},{"z":0.479,"E":18.452},{"z":0.486,"E":18.329},{"z":0.494,"E":18.378},{"z":0.458,"E":18.486},
{"z":0.504,"E":18.312},{"z":0.512,"E":18.389},{"z":0.521,"E":18.335},{"z":0.529,"E":18.421},{"z":0.537,"E":18.306},{"z":0.544,"E":18.362},{"z":0.548,"E":18.441},
{"z":0.556,"E":18.318},{"z":0.567,"E":18.351},{"z":0.574,"E":18.309},{"z":0.588,"E":18.332},
{"z":0.001,"E":18.004},{"z":0.016,"E":18.079},{"z":0.031,"E":18.153},{"z":0.046,"E":18.031},{"z":0.008,"E":18.118},{"z":0.023,"E":18.186},{"z":0.038,"E":18.057},{"z":0.004,"E":18.012},{"z":0.019,"E":18.142},{"z":0.034,"E":18.095},{"z":0.049,"E":18.171},{"z":0.011,"E":18.038},{"z":0.026,"E":18.066},{"z":0.041,"E":18.129},{"z":0.006,"E":18.197},{"z":0.021,"E":18.021},{"z":0.036,"E":18.104},{"z":0.014,"E":18.162},{"z":0.029,"E":18.049},{"z":0.044,"E":18.085},{"z":0.002,"E":18.133},{"z":0.017,"E":18.007},{"z":0.032,"E":18.176},{"z":0.047,"E":18.061},{"z":0.009,"E":18.112},{"z":0.024,"E":18.027},{"z":0.039,"E":18.191},{"z":0.013,"E":18.146},{"z":0.028,"E":18.073},{"z":0.043,"E":18.015},{"z":0.005,"E":18.124},{"z":0.020,"E":18.053},{"z":0.035,"E":18.168},{"z":0.048,"E":18.091},{"z":0.027,"E":18.036},
{"z":0.094,"E":18.143},{"z":0.079,"E":18.018},{"z":0.062,"E":18.096},{"z":0.053,"E":18.174},{"z":0.087,"E":18.052},{"z":0.071,"E":18.009},{"z":0.098,"E":18.127},{"z":0.058,"E":18.063},{"z":0.083,"E":18.189},{"z":0.067,"E":18.034},{"z":0.091,"E":18.108},{"z":0.076,"E":18.157},{"z":0.051,"E":18.082},{"z":0.085,"E":18.024},{"z":0.064,"E":18.138},{"z":0.096,"E":18.069},{"z":0.073,"E":18.001},{"z":0.056,"E":18.181},{"z":0.089,"E":18.115},{"z":0.069,"E":18.044},{"z":0.081,"E":18.093},{"z":0.060,"E":18.166},{"z":0.092,"E":18.029},{"z":0.077,"E":18.151},{"z":0.054,"E":18.076},{"z":0.086,"E":18.121},{"z":0.066,"E":18.013},{"z":0.097,"E":18.058},{"z":0.074,"E":18.194},{"z":0.061,"E":18.101},{"z":0.088,"E":18.041},{"z":0.052,"E":18.135},{"z":0.080,"E":18.087},{"z":0.068,"E":18.006},{"z":0.095,"E":18.159},
{"z":0.101,"E":18.143},{"z":0.116,"E":18.018},{"z":0.131,"E":18.096},{"z":0.146,"E":18.174},{"z":0.108,"E":18.052},{"z":0.123,"E":18.009},{"z":0.138,"E":18.127},{"z":0.104,"E":18.063},{"z":0.119,"E":18.189},{"z":0.134,"E":18.034},{"z":0.149,"E":18.108},{"z":0.111,"E":18.157},{"z":0.126,"E":18.082},{"z":0.141,"E":18.024},{"z":0.106,"E":18.138},{"z":0.121,"E":18.069},{"z":0.136,"E":18.001},{"z":0.114,"E":18.181},{"z":0.129,"E":18.115},{"z":0.144,"E":18.044},{"z":0.102,"E":18.093},{"z":0.117,"E":18.166},{"z":0.132,"E":18.029},{"z":0.147,"E":18.151},{"z":0.109,"E":18.076},{"z":0.124,"E":18.121},{"z":0.139,"E":18.013},{"z":0.113,"E":18.058},{"z":0.128,"E":18.194},{"z":0.143,"E":18.101},{"z":0.105,"E":18.041},{"z":0.120,"E":18.135},{"z":0.135,"E":18.087},{"z":0.148,"E":18.006},{"z":0.127,"E":18.159},
{"z":0.194,"E":18.004},{"z":0.179,"E":18.079},{"z":0.162,"E":18.153},{"z":0.153,"E":18.031},{"z":0.187,"E":18.118},{"z":0.171,"E":18.186},{"z":0.198,"E":18.057},{"z":0.158,"E":18.012},{"z":0.183,"E":18.142},{"z":0.167,"E":18.095},{"z":0.191,"E":18.171},{"z":0.176,"E":18.038},{"z":0.151,"E":18.066},{"z":0.185,"E":18.129},{"z":0.164,"E":18.197},{"z":0.196,"E":18.021},{"z":0.173,"E":18.104},{"z":0.156,"E":18.162},{"z":0.189,"E":18.049},{"z":0.169,"E":18.085},{"z":0.181,"E":18.133},{"z":0.160,"E":18.007},{"z":0.192,"E":18.176},{"z":0.177,"E":18.061},{"z":0.154,"E":18.112},{"z":0.186,"E":18.027},{"z":0.166,"E":18.191},{"z":0.197,"E":18.146},{"z":0.174,"E":18.073},{"z":0.161,"E":18.015},{"z":0.188,"E":18.124},{"z":0.152,"E":18.053},{"z":0.180,"E":18.168},{"z":0.168,"E":18.091},{"z":0.195,"E":18.036},
{"z":0.201,"E":18.036},{"z":0.216,"E":18.091},{"z":0.231,"E":18.168},{"z":0.246,"E":18.053},{"z":0.208,"E":18.124},{"z":0.223,"E":18.015},{"z":0.238,"E":18.073},{"z":0.204,"E":18.146},{"z":0.219,"E":18.191},{"z":0.234,"E":18.027},{"z":0.249,"E":18.112},{"z":0.211,"E":18.061},{"z":0.226,"E":18.176},{"z":0.241,"E":18.007},{"z":0.206,"E":18.133},{"z":0.221,"E":18.085},{"z":0.236,"E":18.049},{"z":0.214,"E":18.162},{"z":0.229,"E":18.104},{"z":0.244,"E":18.021},{"z":0.202,"E":18.197},{"z":0.217,"E":18.129},{"z":0.232,"E":18.066},{"z":0.247,"E":18.038},{"z":0.209,"E":18.171},{"z":0.224,"E":18.095},{"z":0.239,"E":18.142},{"z":0.213,"E":18.012},{"z":0.228,"E":18.057},{"z":0.243,"E":18.186},{"z":0.205,"E":18.118},{"z":0.220,"E":18.031},{"z":0.235,"E":18.153},{"z":0.248,"E":18.079},{"z":0.227,"E":18.004},
{"z":0.294,"E":18.159},{"z":0.279,"E":18.006},{"z":0.262,"E":18.087},{"z":0.253,"E":18.135},{"z":0.287,"E":18.041},{"z":0.271,"E":18.101},{"z":0.298,"E":18.194},{"z":0.258,"E":18.058},{"z":0.283,"E":18.013},{"z":0.267,"E":18.121},{"z":0.291,"E":18.076},{"z":0.276,"E":18.151},{"z":0.251,"E":18.029},{"z":0.285,"E":18.166},{"z":0.264,"E":18.093},{"z":0.296,"E":18.044},{"z":0.273,"E":18.115},{"z":0.256,"E":18.181},{"z":0.289,"E":18.001},{"z":0.269,"E":18.069},{"z":0.281,"E":18.138},{"z":0.260,"E":18.024},{"z":0.292,"E":18.082},{"z":0.277,"E":18.157},{"z":0.254,"E":18.108},{"z":0.286,"E":18.034},{"z":0.266,"E":18.189},{"z":0.297,"E":18.063},{"z":0.274,"E":18.127},{"z":0.261,"E":18.009},{"z":0.288,"E":18.052},{"z":0.252,"E":18.174},{"z":0.280,"E":18.096},{"z":0.268,"E":18.018},{"z":0.295,"E":18.143},
{"z":0.301,"E":18.159},{"z":0.316,"E":18.006},{"z":0.331,"E":18.087},{"z":0.346,"E":18.135},{"z":0.308,"E":18.041},{"z":0.323,"E":18.101},{"z":0.338,"E":18.194},{"z":0.304,"E":18.058},{"z":0.319,"E":18.013},{"z":0.334,"E":18.121},{"z":0.349,"E":18.076},{"z":0.311,"E":18.151},{"z":0.326,"E":18.029},{"z":0.341,"E":18.166},{"z":0.306,"E":18.093},{"z":0.321,"E":18.044},{"z":0.336,"E":18.115},{"z":0.314,"E":18.181},{"z":0.329,"E":18.001},{"z":0.344,"E":18.069},{"z":0.302,"E":18.138},{"z":0.317,"E":18.024},{"z":0.332,"E":18.082},{"z":0.347,"E":18.157},{"z":0.309,"E":18.108},{"z":0.324,"E":18.034},{"z":0.339,"E":18.189},{"z":0.313,"E":18.063},{"z":0.328,"E":18.127},{"z":0.343,"E":18.009},{"z":0.305,"E":18.052},{"z":0.320,"E":18.174},{"z":0.335,"E":18.096},{"z":0.348,"E":18.018},{"z":0.327,"E":18.143},
{"z":0.394,"E":18.036},{"z":0.379,"E":18.091},{"z":0.362,"E":18.168},{"z":0.353,"E":18.053},{"z":0.387,"E":18.124},{"z":0.371,"E":18.015},{"z":0.398,"E":18.073},{"z":0.358,"E":18.146},{"z":0.383,"E":18.191},{"z":0.367,"E":18.027},{"z":0.391,"E":18.112},{"z":0.376,"E":18.061},{"z":0.351,"E":18.176},{"z":0.385,"E":18.007},{"z":0.364,"E":18.133},{"z":0.396,"E":18.085},{"z":0.373,"E":18.049},{"z":0.356,"E":18.162},{"z":0.389,"E":18.104},{"z":0.369,"E":18.021},{"z":0.381,"E":18.197},{"z":0.360,"E":18.129},{"z":0.392,"E":18.066},{"z":0.377,"E":18.038},{"z":0.354,"E":18.171},{"z":0.386,"E":18.095},{"z":0.366,"E":18.142},{"z":0.397,"E":18.012},{"z":0.374,"E":18.057},{"z":0.361,"E":18.186},{"z":0.388,"E":18.118},{"z":0.352,"E":18.031},{"z":0.380,"E":18.153},{"z":0.368,"E":18.079},{"z":0.395,"E":18.004},
{"z":0.401,"E":18.004},{"z":0.416,"E":18.079},{"z":0.431,"E":18.153},{"z":0.446,"E":18.031},{"z":0.408,"E":18.118},{"z":0.423,"E":18.186},{"z":0.438,"E":18.057},{"z":0.404,"E":18.012},{"z":0.419,"E":18.142},{"z":0.434,"E":18.095},{"z":0.449,"E":18.171},{"z":0.411,"E":18.038},{"z":0.426,"E":18.066},{"z":0.441,"E":18.129},{"z":0.406,"E":18.197},{"z":0.421,"E":18.021},{"z":0.436,"E":18.104},{"z":0.414,"E":18.162},{"z":0.429,"E":18.049},{"z":0.444,"E":18.085},{"z":0.402,"E":18.133},{"z":0.417,"E":18.007},{"z":0.432,"E":18.176},{"z":0.447,"E":18.061},{"z":0.409,"E":18.112},{"z":0.424,"E":18.027},{"z":0.439,"E":18.191},{"z":0.413,"E":18.146},{"z":0.428,"E":18.073},{"z":0.443,"E":18.015},{"z":0.405,"E":18.124},{"z":0.420,"E":18.053},{"z":0.435,"E":18.168},{"z":0.448,"E":18.091},{"z":0.427,"E":18.036},
{"z":0.494,"E":18.143},{"z":0.479,"E":18.018},{"z":0.462,"E":18.096},{"z":0.453,"E":18.174},{"z":0.487,"E":18.052},{"z":0.471,"E":18.009},{"z":0.498,"E":18.127},{"z":0.458,"E":18.063},{"z":0.483,"E":18.189},{"z":0.467,"E":18.034},{"z":0.491,"E":18.108},{"z":0.476,"E":18.157},{"z":0.451,"E":18.082},{"z":0.485,"E":18.024},{"z":0.464,"E":18.138},{"z":0.496,"E":18.069},{"z":0.473,"E":18.001},{"z":0.456,"E":18.181},{"z":0.489,"E":18.115},{"z":0.469,"E":18.044},{"z":0.481,"E":18.093},{"z":0.460,"E":18.166},{"z":0.492,"E":18.029},{"z":0.477,"E":18.151},{"z":0.454,"E":18.076},{"z":0.486,"E":18.121},{"z":0.466,"E":18.013},{"z":0.497,"E":18.058},{"z":0.474,"E":18.194},{"z":0.461,"E":18.101},{"z":0.488,"E":18.041},{"z":0.452,"E":18.135},{"z":0.480,"E":18.087},{"z":0.468,"E":18.006},{"z":0.495,"E":18.159},
{"z":0.501,"E":18.143},{"z":0.516,"E":18.018},{"z":0.531,"E":18.096},{"z":0.546,"E":18.174},{"z":0.508,"E":18.052},{"z":0.523,"E":18.009},{"z":0.538,"E":18.127},{"z":0.504,"E":18.063},{"z":0.519,"E":18.189},{"z":0.534,"E":18.034},{"z":0.549,"E":18.108},{"z":0.511,"E":18.157},{"z":0.526,"E":18.082},{"z":0.541,"E":18.024},{"z":0.506,"E":18.138},{"z":0.521,"E":18.069},{"z":0.536,"E":18.001},{"z":0.514,"E":18.181},{"z":0.529,"E":18.115},{"z":0.544,"E":18.044},{"z":0.502,"E":18.093},{"z":0.517,"E":18.166},{"z":0.532,"E":18.029},{"z":0.547,"E":18.151},{"z":0.509,"E":18.076},{"z":0.524,"E":18.121},{"z":0.539,"E":18.013},{"z":0.513,"E":18.058},{"z":0.528,"E":18.194},{"z":0.543,"E":18.101},{"z":0.505,"E":18.041},{"z":0.520,"E":18.135},{"z":0.535,"E":18.087},{"z":0.548,"E":18.006},{"z":0.527,"E":18.159},
{"z":0.594,"E":18.004},{"z":0.579,"E":18.079},{"z":0.562,"E":18.153},{"z":0.553,"E":18.031},{"z":0.587,"E":18.118},{"z":0.571,"E":18.186},{"z":0.598,"E":18.057},{"z":0.558,"E":18.012},{"z":0.583,"E":18.142},{"z":0.567,"E":18.095},{"z":0.591,"E":18.171},{"z":0.576,"E":18.038},{"z":0.551,"E":18.066},{"z":0.585,"E":18.129},{"z":0.564,"E":18.197},{"z":0.596,"E":18.021},{"z":0.573,"E":18.104},{"z":0.556,"E":18.162},{"z":0.589,"E":18.049},{"z":0.569,"E":18.085},{"z":0.581,"E":18.133},{"z":0.560,"E":18.007},{"z":0.592,"E":18.176},{"z":0.577,"E":18.061},{"z":0.554,"E":18.112},{"z":0.586,"E":18.027},{"z":0.566,"E":18.191},{"z":0.597,"E":18.146},{"z":0.574,"E":18.073},{"z":0.561,"E":18.015},{"z":0.588,"E":18.124},{"z":0.552,"E":18.053},{"z":0.580,"E":18.168},{"z":0.568,"E":18.091},{"z":0.595,"E":18.036},
{"z":0.004,"E":18.184},{"z":0.011,"E":18.262},{"z":0.019,"E":18.221},{"z":0.027,"E":18.341},{"z":0.036,"E":18.197},{"z":0.044,"E":18.305},{"z":0.001,"E":18.243},{"z":0.008,"E":18.358},{"z":0.015,"E":18.211},{"z":0.024,"E":18.279},{"z":0.032,"E":18.326},{"z":0.040,"E":18.189},{"z":0.047,"E":18.254},{"z":0.006,"E":18.317},{"z":0.013,"E":18.233},{"z":0.021,"E":18.292},{"z":0.029,"E":18.206},{"z":0.038,"E":18.349},{"z":0.046,"E":18.268},{"z":0.017,"E":18.225},{"z":0.034,"E":18.336},{"z":0.042,"E":18.287},
{"z":0.091,"E":18.311},{"z":0.053,"E":18.202},{"z":0.076,"E":18.274},{"z":0.064,"E":18.192},{"z":0.097,"E":18.352},{"z":0.059,"E":18.248},{"z":0.083,"E":18.299},{"z":0.070,"E":18.215},{"z":0.088,"E":18.333},{"z":0.056,"E":18.186},{"z":0.079,"E":18.266},{"z":0.095,"E":18.229},{"z":0.062,"E":18.344},{"z":0.073,"E":18.258},{"z":0.051,"E":18.195},{"z":0.086,"E":18.321},{"z":0.067,"E":18.237},{"z":0.081,"E":18.283},{"z":0.094,"E":18.359},{"z":0.060,"E":18.209},{"z":0.075,"E":18.303},{"z":0.099,"E":18.251},
{"z":0.104,"E":18.311},{"z":0.111,"E":18.202},{"z":0.119,"E":18.274},{"z":0.127,"E":18.192},{"z":0.136,"E":18.352},{"z":0.144,"E":18.248},{"z":0.101,"E":18.299},{"z":0.108,"E":18.215},{"z":0.115,"E":18.333},{"z":0.124,"E":18.186},{"z":0.132,"E":18.266},{"z":0.140,"E":18.229},{"z":0.147,"E":18.344},{"z":0.106,"E":18.258},{"z":0.113,"E":18.195},{"z":0.121,"E":18.321},{"z":0.129,"E":18.237},{"z":0.138,"E":18.283},{"z":0.146,"E":18.359},{"z":0.117,"E":18.209},{"z":0.134,"E":18.303},{"z":0.142,"E":18.251},
{"z":0.191,"E":18.184},{"z":0.153,"E":18.262},{"z":0.176,"E":18.221},{"z":0.164,"E":18.341},{"z":0.197,"E":18.197},{"z":0.159,"E":18.305},{"z":0.183,"E":18.243},{"z":0.170,"E":18.358},{"z":0.188,"E":18.211},{"z":0.156,"E":18.279},{"z":0.179,"E":18.326},{"z":0.195,"E":18.189},{"z":0.162,"E":18.254},{"z":0.173,"E":18.317},{"z":0.151,"E":18.233},{"z":0.186,"E":18.292},{"z":0.167,"E":18.206},{"z":0.181,"E":18.349},{"z":0.194,"E":18.268},{"z":0.160,"E":18.225},{"z":0.175,"E":18.336},{"z":0.199,"E":18.287},
{"z":0.204,"E":18.184},{"z":0.211,"E":18.262},{"z":0.219,"E":18.221},{"z":0.227,"E":18.341},{"z":0.236,"E":18.197},{"z":0.244,"E":18.305},{"z":0.201,"E":18.243},{"z":0.208,"E":18.358},{"z":0.215,"E":18.211},{"z":0.224,"E":18.279},{"z":0.232,"E":18.326},{"z":0.240,"E":18.189},{"z":0.247,"E":18.254},{"z":0.206,"E":18.317},{"z":0.213,"E":18.233},{"z":0.221,"E":18.292},{"z":0.229,"E":18.206},{"z":0.238,"E":18.349},{"z":0.246,"E":18.268},{"z":0.217,"E":18.225},{"z":0.234,"E":18.336},{"z":0.242,"E":18.287},
{"z":0.291,"E":18.311},{"z":0.253,"E":18.202},{"z":0.276,"E":18.274},{"z":0.264,"E":18.192},{"z":0.297,"E":18.352},{"z":0.259,"E":18.248},{"z":0.283,"E":18.299},{"z":0.270,"E":18.215},{"z":0.288,"E":18.333},{"z":0.256,"E":18.186},{"z":0.279,"E":18.266},{"z":0.295,"E":18.229},{"z":0.262,"E":18.344},{"z":0.273,"E":18.258},{"z":0.251,"E":18.195},{"z":0.286,"E":18.321},{"z":0.267,"E":18.237},{"z":0.281,"E":18.283},{"z":0.294,"E":18.359},{"z":0.260,"E":18.209},{"z":0.275,"E":18.303},{"z":0.299,"E":18.251},
{"z":0.304,"E":18.311},{"z":0.311,"E":18.202},{"z":0.319,"E":18.274},{"z":0.327,"E":18.192},{"z":0.336,"E":18.352},{"z":0.344,"E":18.248},{"z":0.301,"E":18.299},{"z":0.308,"E":18.215},{"z":0.315,"E":18.333},{"z":0.324,"E":18.186},{"z":0.332,"E":18.266},{"z":0.340,"E":18.229},{"z":0.347,"E":18.344},{"z":0.306,"E":18.258},{"z":0.313,"E":18.195},{"z":0.321,"E":18.321},{"z":0.329,"E":18.237},{"z":0.338,"E":18.283},{"z":0.346,"E":18.359},{"z":0.317,"E":18.209},{"z":0.334,"E":18.303},{"z":0.342,"E":18.251},
{"z":0.391,"E":18.184},{"z":0.353,"E":18.262},{"z":0.376,"E":18.221},{"z":0.364,"E":18.341},{"z":0.397,"E":18.197},{"z":0.359,"E":18.305},{"z":0.383,"E":18.243},{"z":0.370,"E":18.358},{"z":0.388,"E":18.211},{"z":0.356,"E":18.279},{"z":0.379,"E":18.326},{"z":0.395,"E":18.189},{"z":0.362,"E":18.254},{"z":0.373,"E":18.317},{"z":0.351,"E":18.233},{"z":0.386,"E":18.292},{"z":0.367,"E":18.206},{"z":0.381,"E":18.349},{"z":0.394,"E":18.268},{"z":0.360,"E":18.225},{"z":0.375,"E":18.336},{"z":0.399,"E":18.287},
{"z":0.404,"E":18.184},{"z":0.411,"E":18.262},{"z":0.419,"E":18.221},{"z":0.427,"E":18.341},{"z":0.436,"E":18.197},{"z":0.444,"E":18.305},{"z":0.401,"E":18.243},{"z":0.408,"E":18.358},{"z":0.415,"E":18.211},{"z":0.424,"E":18.279},{"z":0.432,"E":18.326},{"z":0.440,"E":18.189},{"z":0.447,"E":18.254},{"z":0.406,"E":18.317},{"z":0.413,"E":18.233},{"z":0.421,"E":18.292},{"z":0.429,"E":18.206},{"z":0.438,"E":18.349},{"z":0.446,"E":18.268},{"z":0.417,"E":18.225},{"z":0.434,"E":18.336},{"z":0.442,"E":18.287},
{"z":0.491,"E":18.311},{"z":0.453,"E":18.202},{"z":0.476,"E":18.274},{"z":0.464,"E":18.192},{"z":0.497,"E":18.302},{"z":0.459,"E":18.248},{"z":0.483,"E":18.289},{"z":0.470,"E":18.215},{"z":0.488,"E":18.323},{"z":0.456,"E":18.186},{"z":0.479,"E":18.266},{"z":0.495,"E":18.229},{"z":0.462,"E":18.334},{"z":0.473,"E":18.258},{"z":0.451,"E":18.195},{"z":0.486,"E":18.241},{"z":0.467,"E":18.237},{"z":0.481,"E":18.283},{"z":0.494,"E":18.199},{"z":0.460,"E":18.209},{"z":0.475,"E":18.303},{"z":0.499,"E":18.251},
{"z":0.504,"E":18.184},{"z":0.511,"E":18.262},{"z":0.519,"E":18.221},{"z":0.527,"E":18.301},{"z":0.536,"E":18.197},{"z":0.544,"E":18.255},{"z":0.501,"E":18.243},{"z":0.508,"E":18.288},{"z":0.515,"E":18.211},{"z":0.524,"E":18.279},{"z":0.532,"E":18.236},{"z":0.540,"E":18.189},{"z":0.547,"E":18.254},{"z":0.506,"E":18.227},
{"z":0.553,"E":18.192},{"z":0.561,"E":18.247},{"z":0.569,"E":18.208},{"z":0.577,"E":18.281},{"z":0.584,"E":18.226},{"z":0.591,"E":18.199},{"z":0.597,"E":18.263},{"z":0.565,"E":18.236},
{"z":0.005,"E":18.338},{"z":0.014,"E":18.442},{"z":0.023,"E":18.391},{"z":0.032,"E":18.507},{"z":0.041,"E":18.364},{"z":0.048,"E":18.476},{"z":0.009,"E":18.352},{"z":0.027,"E":18.418},{"z":0.037,"E":18.489},{"z":0.019,"E":18.403},
{"z":0.096,"E":18.461},{"z":0.081,"E":18.347},{"z":0.062,"E":18.429},{"z":0.089,"E":18.372},{"z":0.053,"E":18.515},{"z":0.074,"E":18.398},{"z":0.067,"E":18.335},{"z":0.094,"E":18.482},{"z":0.058,"E":18.411},{"z":0.079,"E":18.359},
{"z":0.105,"E":18.461},{"z":0.114,"E":18.347},{"z":0.123,"E":18.429},{"z":0.132,"E":18.372},{"z":0.141,"E":18.515},{"z":0.148,"E":18.398},{"z":0.109,"E":18.335},{"z":0.127,"E":18.482},{"z":0.137,"E":18.411},{"z":0.119,"E":18.359},
{"z":0.196,"E":18.338},{"z":0.181,"E":18.442},{"z":0.162,"E":18.391},{"z":0.189,"E":18.507},{"z":0.153,"E":18.364},{"z":0.174,"E":18.476},{"z":0.167,"E":18.352},{"z":0.194,"E":18.418},{"z":0.158,"E":18.489},{"z":0.179,"E":18.403},
{"z":0.205,"E":18.338},{"z":0.214,"E":18.442},{"z":0.223,"E":18.391},{"z":0.232,"E":18.507},{"z":0.241,"E":18.364},{"z":0.248,"E":18.476},{"z":0.209,"E":18.352},{"z":0.227,"E":18.418},{"z":0.237,"E":18.489},{"z":0.219,"E":18.403},
{"z":0.296,"E":18.461},{"z":0.281,"E":18.347},{"z":0.262,"E":18.429},{"z":0.289,"E":18.372},{"z":0.253,"E":18.515},{"z":0.274,"E":18.398},{"z":0.267,"E":18.335},{"z":0.294,"E":18.482},{"z":0.258,"E":18.411},{"z":0.279,"E":18.359},
{"z":0.305,"E":18.461},{"z":0.314,"E":18.347},{"z":0.323,"E":18.429},{"z":0.332,"E":18.372},{"z":0.341,"E":18.515},{"z":0.348,"E":18.398},{"z":0.309,"E":18.335},{"z":0.327,"E":18.482},{"z":0.337,"E":18.411},{"z":0.319,"E":18.359},
{"z":0.396,"E":18.338},{"z":0.381,"E":18.442},{"z":0.362,"E":18.391},{"z":0.389,"E":18.507},{"z":0.353,"E":18.364},{"z":0.374,"E":18.476},{"z":0.367,"E":18.352},{"z":0.394,"E":18.418},{"z":0.358,"E":18.489},{"z":0.379,"E":18.403},
{"z":0.602,"E":18.091},{"z":0.608,"E":18.134},{"z":0.614,"E":18.047},{"z":0.618,"E":18.012},{"z":0.622,"E":18.072},{"z":0.626,"E":18.118},{"z":0.633,"E":18.031},{"z":0.639,"E":18.097},{"z":0.641,"E":18.009},{"z":0.647,"E":18.061},{"z":0.653,"E":18.136},{"z":0.657,"E":18.023},{"z":0.661,"E":18.078},{"z":0.666,"E":18.049},{"z":0.671,"E":18.104},{"z":0.675,"E":18.015},{"z":0.680,"E":18.066},{"z":0.684,"E":18.093},{"z":0.689,"E":18.036},{"z":0.693,"E":18.124},{"z":0.699,"E":18.057},{"z":0.703,"E":18.021},{"z":0.707,"E":18.083},{"z":0.713,"E":18.044},{"z":0.718,"E":18.097},{"z":0.722,"E":18.011},{"z":0.727,"E":18.068},{"z":0.733,"E":18.032},{"z":0.738,"E":18.109},{"z":0.742,"E":18.052},{"z":0.749,"E":18.018},{"z":0.755,"E":18.071},{"z":0.759,"E":18.034},{"z":0.766,"E":18.058},{"z":0.771,"E":18.014},{"z":0.779,"E":18.042},{"z":0.786,"E":18.025},{"z":0.791,"E":18.061},{"z":0.797,"E":18.009},{"z":0.802,"E":18.037}
]},
"layer":[
{"mark":{"type":"circle","size":12,"opacity":1},
"encoding":{
"x":{"field":"z","type":"quantitative","scale":{"domain":[0,1],"nice":false,"zero":false},"axis":{"orient":"bottom","values":[0,0.2,0.4,0.6,0.8,1],"format":"~g","tickSize":-8,"labelPadding":22,"labelFlush":false,"title":"injection redshift","titlePadding":13}},
"y":{"field":"E","type":"quantitative","scale":{"domain":[18,20],"nice":false,"zero":false},"axis":{"orient":"left","values":[18,18.5,19,19.5,20],"format":"~g","tickSize":-8,"labelPadding":12,"labelFlush":false,"title":"log₁₀(Eₑₐᵣₜₕ/eV)","titlePadding":24}},
"color":{"datum":"protons","type":"nominal","scale":{"range":["black"]},"legend":{"title":null,"orient":"none","legendX":499,"legendY":17,"labelFont":"DejaVu Serif","labelFontSize":17,"labelAlign":"right","labelOffset":-51,"symbolSize":12,"symbolType":"circle","padding":0,"labelColor":"black","symbolFillColor":"black","symbolStrokeWidth":0}}
}},
{"data":{"values":[{}]},"mark":{"type":"circle","opacity":0},
"encoding":{
"x":{"datum":0,"type":"quantitative","axis":{"orient":"top","values":[0,0.2,0.4,0.6,0.8,1],"labels":false,"title":null,"tickSize":-8}},
"y":{"datum":18,"type":"quantitative","axis":{"orient":"right","values":[18,18.5,19,19.5,20],"labels":false,"title":null,"tickSize":-8}}
}}
],
"resolve":{"axis":{"x":"independent","y":"independent"}}
}
